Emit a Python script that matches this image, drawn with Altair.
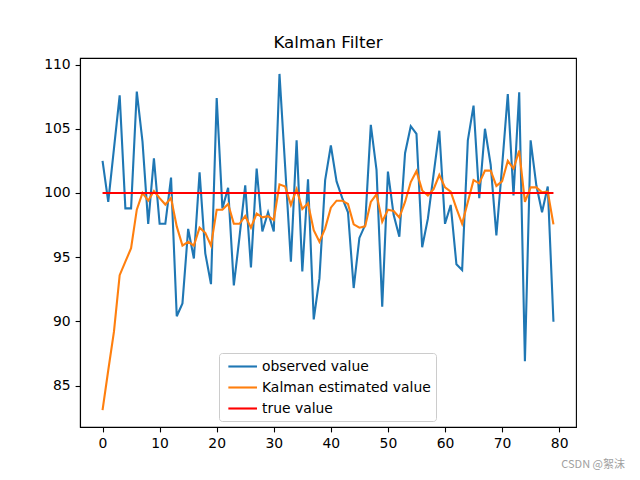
import altair as alt
import pandas as pd

steps = list(range(80))
observed = [102.5, 99.3, 103.45, 107.6, 98.8, 98.8, 107.9, 104.0, 97.6, 102.7,
            97.6, 97.6, 101.2, 90.4, 91.4, 97.2, 94.9, 101.6, 95.3, 92.9,
            107.4, 98.8, 100.4, 92.8, 96.6, 100.6, 94.2, 101.9, 97.0, 98.5,
            97.0, 109.27, 102.0, 94.65, 104.1, 93.9, 101.07, 90.16, 93.35, 101.0,
            103.7, 100.9, 99.6, 98.5, 92.6, 96.5, 97.5, 105.3, 101.8, 91.15,
            101.66, 98.3, 96.6, 103.1, 105.2, 104.6, 95.77, 98.0, 101.45, 104.85,
            97.6, 99.07, 94.45, 94.0, 104.1, 106.8, 99.6, 105.0, 102.2, 96.7,
            102.05, 107.7, 99.8, 107.84, 86.9, 104.1, 100.6, 98.5, 100.5, 89.98]
kalman = [83.1, 86.2, 89.2, 93.6, 94.65, 95.7, 98.7, 100.0, 99.4, 100.15,
          99.6, 99.1, 99.6, 97.4, 95.9, 96.2, 95.9, 97.3, 96.9, 95.9,
          98.7, 98.7, 99.15, 97.6, 97.6, 98.2, 97.3, 98.4, 98.1, 98.2,
          97.9, 100.67, 100.5, 99.07, 100.3, 98.75, 99.2, 97.1, 96.2, 97.25,
          98.86, 99.4, 99.4, 99.14, 97.56, 97.3, 97.4, 99.3, 99.9, 97.77,
          98.7, 98.6, 98.1, 99.3, 100.85, 101.7, 100.2, 99.8, 100.3, 101.4,
          100.44, 100.1, 98.8, 97.6, 99.3, 101.0, 100.75, 101.74, 101.74, 100.55,
          100.9, 102.5, 101.9, 103.3, 99.3, 100.44, 100.44, 100.05, 100.1, 97.56]
true_value = [100.0] * 80

series_names = ["observed value", "Kalman estimated value", "true value"]
series_colors = ["#1f77b4", "#ff7f0e", "#ff0000"]

rows = []
for name, vals in zip(series_names, [observed, kalman, true_value]):
    for s, v in zip(steps, vals):
        rows.append({"step": s, "value": v, "series": name})
df = pd.DataFrame(rows)

x_ticks = [0, 10, 20, 30, 40, 50, 60, 70, 80]
y_ticks = [85, 90, 95, 100, 105, 110]

color = alt.Color(
    "series:N",
    scale=alt.Scale(domain=series_names, range=series_colors),
    sort=series_names,
    legend=alt.Legend(
        title=None, orient="none", legendX=139, legendY=295,
        symbolType="M-0.58,0L3.42,0", symbolSize=205, symbolStrokeWidth=2.1,
        labelFontSize=13.9, labelFont="DejaVu Sans", labelColor="black",
        labelOffset=21, labelLimit=400, rowPadding=5, padding=5,
        strokeColor="#cccccc", fillColor="white", cornerRadius=3,
    ),
)

base = alt.Chart(df).encode(
    x=alt.X("step:Q", scale=alt.Scale(domain=[-3.95, 82.95], nice=False, zero=False),
            axis=alt.Axis(values=x_ticks, title=None, grid=False, format="d")),
    y=alt.Y("value:Q", scale=alt.Scale(domain=[81.78, 110.51], nice=False, zero=False),
            axis=alt.Axis(values=y_ticks, title=None, grid=False, format="d")),
    color=color,
)

layers = []
for name in series_names:
    layers.append(
        base.transform_filter(alt.datum.series == name)
        .mark_line(strokeWidth=2.1, clip=True)
    )

wm = alt.Chart(pd.DataFrame({"t": ["CSDN @絮沫"]})).mark_text(
    align="right", baseline="middle", fontSize=11, color="#a0a0a0",
    font="Noto Sans CJK SC"
).encode(text="t:N", x=alt.value(545), y=alt.value(407))

chart = alt.layer(*layers, wm).properties(
    width=496, height=369,
    title=alt.TitleParams("Kalman Filter", fontSize=16.7, font="DejaVu Sans",
                          fontWeight="normal", color="black", offset=6),
    autosize=alt.AutoSizeParams(type="none"),
    padding={"left": 72, "top": 50, "right": 56, "bottom": 56},
).configure_view(
    stroke="black", strokeWidth=1.1
).configure_axis(
    labelFont="DejaVu Sans", labelFontSize=13.9, labelColor="black",
    tickColor="black", tickSize=4.9, tickWidth=1.1,
    domainColor="black", domainWidth=1.1, labelPadding=4.9,
)

chart.save("out.html", embed_options={"renderer": "svg", "actions": False})
